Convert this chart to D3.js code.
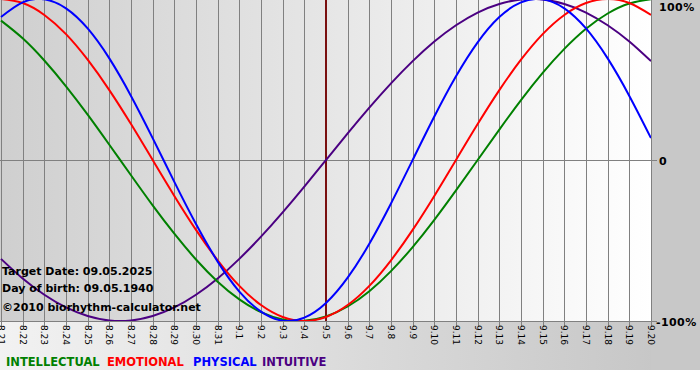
<!DOCTYPE html>
<html><head><meta charset="utf-8">
<script src="https://cdn.jsdelivr.net/npm/d3@7"></script>
<style>html,body{margin:0;padding:0;background:#fff;}svg{display:block;}</style>
</head><body>
<svg id="c" width="700" height="380"></svg>
<script>
const dates = ["8.21","8.22","8.23","8.24","8.25","8.26","8.27","8.28","8.29","8.30","8.31",
  "9.1","9.2","9.3","9.4","9.5","9.6","9.7","9.8","9.9","9.10","9.11","9.12","9.13","9.14",
  "9.15","9.16","9.17","9.18","9.19","9.20"];
const intellectual = [0.866,0.756,0.618,0.458,0.282,0.095,-0.095,-0.282,-0.458,-0.618,-0.756,
  -0.866,-0.945,-0.990,-0.999,-0.972,-0.910,-0.815,-0.690,-0.541,-0.372,-0.189,0,0.189,0.372,
  0.541,0.690,0.815,0.910,0.972,0.999];
const emotional = [1,0.975,0.901,0.782,0.623,0.434,0.223,0,-0.223,-0.434,-0.623,-0.782,-0.901,
  -0.975,-1,-0.975,-0.901,-0.782,-0.623,-0.434,-0.223,0,0.223,0.434,0.623,0.782,0.901,0.975,1,0.975,0.901];
const physical = [0.888,0.979,0.998,0.942,0.817,0.631,0.398,0.136,-0.136,-0.398,-0.631,-0.817,
  -0.942,-0.998,-0.979,-0.888,-0.731,-0.520,-0.270,0,0.270,0.520,0.731,0.888,0.979,0.998,0.942,
  0.817,0.631,0.398,0.136];
const intuitive = [-0.614,-0.736,-0.837,-0.916,-0.969,-0.997,-0.997,-0.969,-0.916,-0.837,-0.736,
  -0.614,-0.476,-0.325,-0.165,0,0.165,0.325,0.476,0.614,0.736,0.837,0.916,0.969,0.997,0.997,
  0.969,0.916,0.837,0.736,0.614];
const targetIndex = 15;
const yTicks = [1, 0, -1];
const yTickLabels = ["100%", "0", "-100%"];
const seriesNames = ["INTELLECTUAL","EMOTIONAL","PHYSICAL","INTUITIVE"];
const seriesColors = ["#008000","#ff0000","#0000ff","#4b0082"];
const infoLines = ["Target Date: 09.05.2025","Day of birth: 09.05.1940","\u00a92010 biorhythm-calculator.net"];

const svg = d3.select("#c");
const W = 700, H = 380;
const plot = {l:0, r:651, t:0, b:321};
const x = d3.scaleLinear().domain([0, dates.length-1]).range([1, plot.r]);
const y = d3.scaleLinear().domain([-1, 1]).range([plot.b, -1]);

const defs = svg.append("defs");
const g1 = defs.append("linearGradient").attr("id","plotbg").attr("x1","0").attr("x2","1").attr("y1","0").attr("y2","0");
g1.append("stop").attr("offset","0").attr("stop-color","#cfcfcf");
g1.append("stop").attr("offset","0.5").attr("stop-color","#e6e6e6");
g1.append("stop").attr("offset","1").attr("stop-color","#ffffff");
const g2 = defs.append("linearGradient").attr("id","outbg").attr("x1","0").attr("x2","1").attr("y1","0").attr("y2","0");
g2.append("stop").attr("offset","0").attr("stop-color","#f2f2f2");
g2.append("stop").attr("offset","1").attr("stop-color","#c4c4c4");

svg.append("rect").attr("x",0).attr("y",0).attr("width",W).attr("height",370).attr("fill","url(#outbg)");
svg.append("rect").attr("x",plot.r).attr("y",0).attr("width",W-plot.r).attr("height",370).attr("fill","#c8c8c8");
svg.append("rect").attr("x",0).attr("y",0).attr("width",plot.r).attr("height",plot.b).attr("fill","url(#plotbg)");

svg.append("g").selectAll("line").data(dates).join("line")
  .attr("x1",(d,i)=>Math.round(x(i))+0.5).attr("x2",(d,i)=>Math.round(x(i))+0.5)
  .attr("y1",0).attr("y2",plot.b+6)
  .attr("stroke","#808080").attr("stroke-width",1);
svg.append("line").attr("x1",0).attr("x2",plot.r+6).attr("y1",Math.round(y(0))+0.5).attr("y2",Math.round(y(0))+0.5)
  .attr("stroke","#808080");
svg.append("line").attr("x1",0).attr("x2",plot.r+6).attr("y1",plot.b+0.5).attr("y2",plot.b+0.5)
  .attr("stroke","#808080");

svg.append("g").selectAll("text").data(yTicks).join("text")
  .attr("x",(d,i)=> i===2 ? 656 : 659)
  .attr("y",d=>Math.max(y(d),6)+5)
  .attr("font-family","DejaVu Sans").attr("font-weight","bold").attr("font-size",11)
  .attr("letter-spacing",0.4).attr("fill","#000")
  .text((d,i)=>yTickLabels[i]);

svg.append("g").selectAll("text").data(dates).join("text")
  .attr("transform",(d,i)=>`translate(${Math.round(x(i))-3},${plot.b+4}) rotate(90)`)
  .attr("font-family","DejaVu Sans").attr("font-size",9).attr("fill","#000")
  .text(d=>d);

svg.append("line").attr("x1",x(targetIndex)).attr("x2",x(targetIndex)).attr("y1",0).attr("y2",plot.b)
  .attr("stroke","#7a1010").attr("stroke-width",2);

const all = [intellectual, emotional, physical, intuitive];
const line = d3.line().x((d,i)=>x(i)).y(d=>y(d)).curve(d3.curveNatural);
const clip = defs.append("clipPath").attr("id","pc");
clip.append("rect").attr("x",0).attr("y",0).attr("width",plot.r).attr("height",plot.b);
const drawOrder = [3,0,1,2];
svg.append("g").attr("clip-path","url(#pc)").selectAll("path").data(drawOrder).join("path")
  .attr("d",k=>line(all[k])).attr("fill","none")
  .attr("stroke",k=>seriesColors[k]).attr("stroke-width",2);

svg.append("g").selectAll("text").data(infoLines).join("text")
  .attr("x",2).attr("y",(d,i)=>[275,292,311][i])
  .attr("font-family","DejaVu Sans").attr("font-weight","bold").attr("font-size",11).attr("fill","#000")
  .text(d=>d);

const legX = [6,107,193,262];
svg.append("g").selectAll("text").data(seriesNames).join("text")
  .attr("x",(d,i)=>legX[i]).attr("y",366)
  .attr("font-family","DejaVu Sans").attr("font-weight","bold").attr("font-size",11.5)
  .attr("fill",(d,i)=>seriesColors[i])
  .text(d=>d);
</script>
</body></html>
